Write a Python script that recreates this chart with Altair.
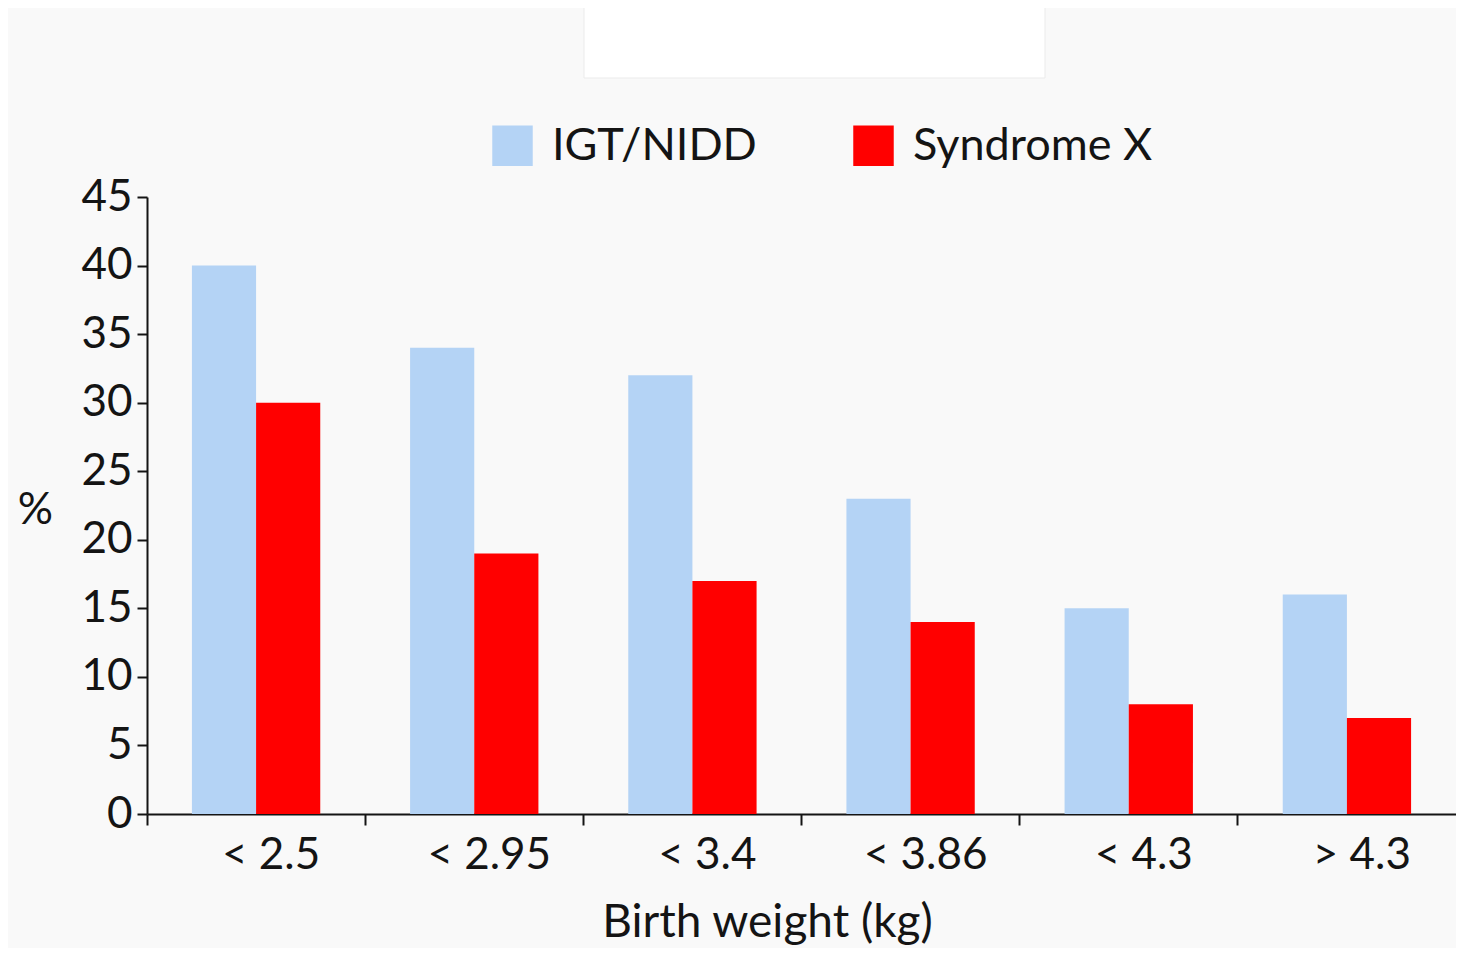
import altair as alt
import pandas as pd

categories = ["< 2.5", "< 2.95", "< 3.4", "< 3.86", "< 4.3", "> 4.3"]
series = ["IGT/NIDD", "Syndrome X"]
igt_nidd = [40, 34, 32, 23, 15, 16]
syndrome_x = [30, 19, 17, 14, 8, 7]
y_ticks = [0, 5, 10, 15, 20, 25, 30, 35, 40, 45]
colors = ["#b4d3f5", "#ff0000"]

rows = []
for c, a, b in zip(categories, igt_nidd, syndrome_x):
    rows.append({"cat": c, "series": series[0], "value": a})
    rows.append({"cat": c, "series": series[1], "value": b})
df = pd.DataFrame(rows)

FONT = "Lato"
INK = "#141414"
W, H = 1309, 617

x_scale = alt.Scale(domain=categories, paddingInner=0, paddingOuter=0)
xo_scale = alt.Scale(domain=series, paddingInner=0, paddingOuter=0.7)
y_scale = alt.Scale(domain=[0, 45], nice=False)


def y_axis():
    return alt.Axis(
        values=y_ticks, grid=False, domain=True, domainColor=INK, domainWidth=2,
        ticks=True, tickColor=INK, tickWidth=2, tickSize=10,
        labelFont=FONT, labelFontSize=44, labelColor=INK, labelPadding=5,
        title="%", titleFont=FONT, titleFontSize=44, titleFontWeight="normal",
        titleColor=INK, titleAngle=0, titleX=-112, titleY=313,
        titleAlign="center", titleBaseline="middle",
    )


bars = alt.Chart(df).mark_bar().encode(
    x=alt.X("cat:N", sort=categories, scale=x_scale,
            axis=alt.Axis(orient="bottom", domain=False, ticks=False,
                          tickSize=0, grid=False,
                          labelAngle=0, labelFont=FONT, labelFontSize=44,
                          labelColor=INK, labelPadding=19, labelOffset=15,
                          title="Birth weight (kg)", titleFont=FONT,
                          titleFontSize=46, titleFontWeight="normal",
                          titleColor=INK, titleX=620, titleY=122,
                          titleAlign="center", titleBaseline="alphabetic")),
    xOffset=alt.XOffset("series:N", sort=series, scale=xo_scale),
    y=alt.Y("value:Q", scale=y_scale, axis=y_axis()),
    color=alt.Color("series:N", sort=series,
                    scale=alt.Scale(domain=series, range=colors),
                    legend=alt.Legend(
                        title=None, orient="none", direction="horizontal",
                        legendX=343, legendY=-74,
                        symbolType="square", symbolSize=1640,
                        symbolStrokeWidth=0, symbolOpacity=1,
                        labelFont=FONT, labelFontSize=45, labelColor=INK,
                        labelLimit=0, labelOffset=17, columnPadding=94)),
)

ticks_layer = alt.Chart(df).mark_bar(opacity=0).encode(
    x=alt.X("cat:N", sort=categories, scale=x_scale,
            axis=alt.Axis(orient="bottom", labels=False, title=None,
                          grid=False, domain=True,
                          domainColor=INK, domainWidth=2, ticks=True,
                          tickColor=INK, tickWidth=2, tickSize=11,
                          bandPosition=0)),
    xOffset=alt.XOffset("series:N", sort=series, scale=xo_scale),
    y=alt.Y("value:Q", scale=y_scale, axis=y_axis()),
)

box = alt.Chart(pd.DataFrame({"k": [0]})).mark_rect(
    fill="white", stroke="#ebebeb", strokeWidth=1
).encode(
    x=alt.value(437), x2=alt.value(898), y=alt.value(-191), y2=alt.value(-119)
)

chart = alt.layer(box, bars, ticks_layer).resolve_axis(x="independent").properties(
    width=W, height=H, autosize="none",
    padding={"left": 139, "top": 189, "right": 0, "bottom": 134},
).configure(background="#f9f9f9").configure_view(stroke=None)

chart.save("out.html", embed_options={"renderer": "svg", "actions": False})
